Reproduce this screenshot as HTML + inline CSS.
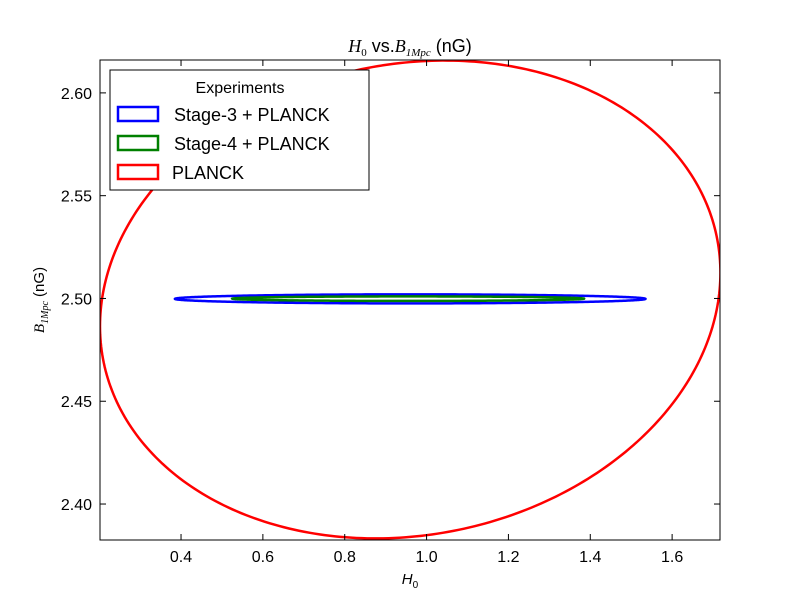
<!DOCTYPE html>
<html><head><meta charset="utf-8">
<style>
body{margin:0;background:#fff;}
svg text{font-family:"Liberation Sans",sans-serif;}
</style></head>
<body>
<svg id="chart" width="800" height="600" viewBox="0 0 800 600" xmlns="http://www.w3.org/2000/svg">
  <rect width="800" height="600" fill="#fff"/>
  <defs><clipPath id="plotclip"><rect x="100" y="60" width="620" height="480"/></clipPath></defs>
  <g id="marks" clip-path="url(#plotclip)"></g>
  <rect x="100" y="60" width="620" height="480" fill="none" stroke="#000" stroke-width="1"/>
  <g id="ticks"></g>
  <text x="410" y="52" font-size="18" text-anchor="middle"><tspan font-family="Liberation Serif" font-style="italic">H</tspan><tspan font-family="Liberation Serif" font-size="11" dy="4">0</tspan><tspan dy="-4"> vs.</tspan><tspan font-family="Liberation Serif" font-style="italic">B</tspan><tspan font-family="Liberation Serif" font-style="italic" font-size="11" dy="4">1Mpc</tspan><tspan dy="-4"> (nG)</tspan></text>
  <text x="410" y="584" font-size="15" text-anchor="middle" font-family="Liberation Serif"><tspan font-style="italic">H</tspan><tspan font-size="10" dy="4">0</tspan></text>
  <text transform="translate(44,300) rotate(-90)" font-size="15" text-anchor="middle"><tspan font-family="Liberation Serif" font-style="italic">B</tspan><tspan font-family="Liberation Serif" font-style="italic" font-size="10" dy="4">1Mpc</tspan><tspan dy="-4"> (nG)</tspan></text>
  <g>
    <rect x="110" y="70" width="259" height="120" fill="#fff" stroke="#000" stroke-width="1"/>
    <text x="240" y="93" font-size="16" text-anchor="middle">Experiments</text>
    <g id="legend-items"></g>
  </g>
</svg>
<script>
const xTicks=[0.4,0.6,0.8,1.0,1.2,1.4,1.6];
const yTicks=[2.40,2.45,2.50,2.55,2.60];
const seriesNames=["Stage-3 + PLANCK","Stage-4 + PLANCK","PLANCK"];
const seriesColors=["#0000ff","#008000","#ff0000"];
const centerX=[0.96,0.955,0.96];
const centerY=[2.4998,2.4999,2.4995];
const semiX=[0.575,0.43,0.758];
const semiY=[0.0022,0.0011,0.1155];
const tiltY=[0.0,0.0,0.013];
const drawOrder=[2,0,1];

const X0=0.202,X1=1.717,Y0=2.3825,Y1=2.616;
const L=100,R=720,T=60,B=540;
function xs(v){return L+(v-X0)/(X1-X0)*(R-L);}
function ys(v){return B-(v-Y0)/(Y1-Y0)*(B-T);}
const NS="http://www.w3.org/2000/svg";
const marks=document.getElementById('marks');
drawOrder.forEach(i=>{
  let d="";
  for(let k=0;k<=360;k++){
    const t=k/360*2*Math.PI;
    const x=centerX[i]+semiX[i]*Math.cos(t);
    const y=centerY[i]+semiY[i]*Math.sin(t)+tiltY[i]*Math.cos(t);
    d+=(k?"L":"M")+xs(x).toFixed(2)+","+ys(y).toFixed(2);
  }
  const p=document.createElementNS(NS,'path');
  p.setAttribute('d',d+"Z");
  p.setAttribute('fill','none');
  p.setAttribute('stroke',seriesColors[i]);
  p.setAttribute('stroke-width','2.5');
  
  
  marks.appendChild(p);
});
const tg=document.getElementById('ticks');
xTicks.forEach(v=>{
  const x=xs(v);
  [[B,B-6],[T,T+6]].forEach(([a,b])=>{
    const l=document.createElementNS(NS,'line');
    l.setAttribute('x1',x);l.setAttribute('x2',x);l.setAttribute('y1',a);l.setAttribute('y2',b);
    l.setAttribute('stroke','#000');
    
    
    tg.appendChild(l);
  });
  const t=document.createElementNS(NS,'text');
  t.setAttribute('x',x);t.setAttribute('y',B+22);t.setAttribute('font-size','16');t.setAttribute('text-anchor','middle');
  t.textContent=v.toFixed(1);
  
  
  tg.appendChild(t);
});
yTicks.forEach(v=>{
  const y=ys(v);
  [[L,L+6],[R,R-6]].forEach(([a,b])=>{
    const l=document.createElementNS(NS,'line');
    l.setAttribute('x1',a);l.setAttribute('x2',b);l.setAttribute('y1',y);l.setAttribute('y2',y);
    l.setAttribute('stroke','#000');
    
    
    tg.appendChild(l);
  });
  const t=document.createElementNS(NS,'text');
  t.setAttribute('x',L-8);t.setAttribute('y',y+6);t.setAttribute('font-size','16');t.setAttribute('text-anchor','end');
  t.textContent=v.toFixed(2);
  
  
  tg.appendChild(t);
});
const lg=document.getElementById('legend-items');
seriesNames.forEach((n,i)=>{
  const y=114+i*29;
  const r=document.createElementNS(NS,'rect');
  r.setAttribute('x',118);r.setAttribute('y',y-7);r.setAttribute('width',40);r.setAttribute('height',14);
  r.setAttribute('fill','#fff');r.setAttribute('stroke',seriesColors[i]);r.setAttribute('stroke-width','2.5');
  
  
  lg.appendChild(r);
  const t=document.createElementNS(NS,'text');
  t.setAttribute('x',i<2?174:172);t.setAttribute('y',y+7);t.setAttribute('font-size','18');
  t.textContent=n;
  
  
  lg.appendChild(t);
});
</script>
</body></html>
